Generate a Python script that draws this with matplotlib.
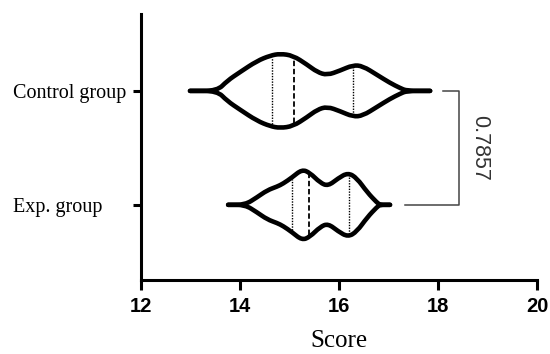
import matplotlib
matplotlib.use('Agg')
import numpy as np
import matplotlib.pyplot as plt
from matplotlib.path import Path
from matplotlib.patches import PathPatch

groups = ['Exp. group', 'Control group']

# violin outlines: score positions and half widths (in group units)
ctrl_score = [12.99, 13.54, 13.74, 14.00, 14.34, 14.61, 14.81, 15.07, 15.35, 15.56,
              15.76, 16.02, 16.28, 16.48, 16.77, 17.03, 17.23, 17.37, 17.84]
ctrl_width = [0, 0.0, 0.088, 0.165, 0.262, 0.31, 0.326, 0.31, 0.232, 0.165,
              0.138, 0.178, 0.226, 0.218, 0.14, 0.07, 0.026, 0.0, 0]
exp_score = [13.76, 14.10, 14.34, 14.55, 14.75, 14.87, 15.05, 15.25, 15.41, 15.62,
             15.78, 15.98, 16.18, 16.36, 16.57, 16.77, 16.83, 17.03]
exp_width = [0, 0.0, 0.065, 0.128, 0.16, 0.186, 0.24, 0.31, 0.282, 0.193,
             0.165, 0.232, 0.282, 0.235, 0.11, 0.018, 0.0, 0]

# quartiles (q1, median, q3)
ctrl_quart = [14.65, 15.09, 16.28]
exp_quart = [15.05, 15.39, 16.20]

p_value = '0.7857'


def smooth_path(xs, ys):
    pts = np.column_stack([xs, ys])
    verts = [pts[0], (pts[0] + pts[1]) / 2]
    codes = [Path.MOVETO, Path.LINETO]
    for i in range(1, len(pts) - 1):
        verts += [pts[i], (pts[i] + pts[i + 1]) / 2]
        codes += [Path.CURVE3, Path.CURVE3]
    verts.append(pts[-1])
    codes.append(Path.LINETO)
    return Path(verts, codes)


fig = plt.figure(figsize=(5.5, 3.54), dpi=100)
ax = fig.add_axes([0.2564, 0.209, 0.72, 0.7515])

data = [(exp_score, exp_width, exp_quart), (ctrl_score, ctrl_width, ctrl_quart)]
for pos, (sc, wd, qs) in enumerate(data):
    sc = np.array(sc)
    wd = np.array(wd)
    for sign in (1, -1):
        p = smooth_path(sc, pos + sign * wd)
        ax.add_patch(PathPatch(p, fill=False, lw=3.3, ec='black', capstyle='round', joinstyle='round'))
    for k, q in enumerate(qs):
        h = np.interp(q, sc, wd) * 0.93
        ls = (0, (3, 1.5)) if k == 1 else (0, (1, 1))
        ax.plot([q, q], [pos - h, pos + h], color='black', lw=1.3 if k == 1 else 1.0, ls=ls)

# significance bracket
ax.plot([18.10, 18.42, 18.42, 17.33], [1, 1, 0, 0], color='#444444', lw=1.1, clip_on=False)
ax.text(18.85, 0.5, p_value, rotation=-90, ha='center', va='center', fontsize=15.5,
        family='Liberation Sans', color='#333333')

ax.set_xlim(12, 20)
ax.set_ylim(-0.66, 1.675)
ax.set_xticks([12, 14, 16, 18, 20])
ax.set_xticklabels(['12', '14', '16', '18', '20'], family='Liberation Sans',
                   fontweight='bold', fontsize=14.5)
ax.set_yticks([0, 1])
ax.set_yticklabels(groups, family='Liberation Serif', fontsize=14.5, ha='left')
ax.tick_params(axis='y', length=6, width=2.2, pad=86)
ax.tick_params(axis='x', length=7, width=2.2, pad=5)
ax.set_xlabel('Score', family='Liberation Serif', fontsize=18, labelpad=10)

for s in ['top', 'right']:
    ax.spines[s].set_visible(False)
for s in ['left', 'bottom']:
    ax.spines[s].set_linewidth(2.2)

fig.savefig('out.png', dpi=100)
